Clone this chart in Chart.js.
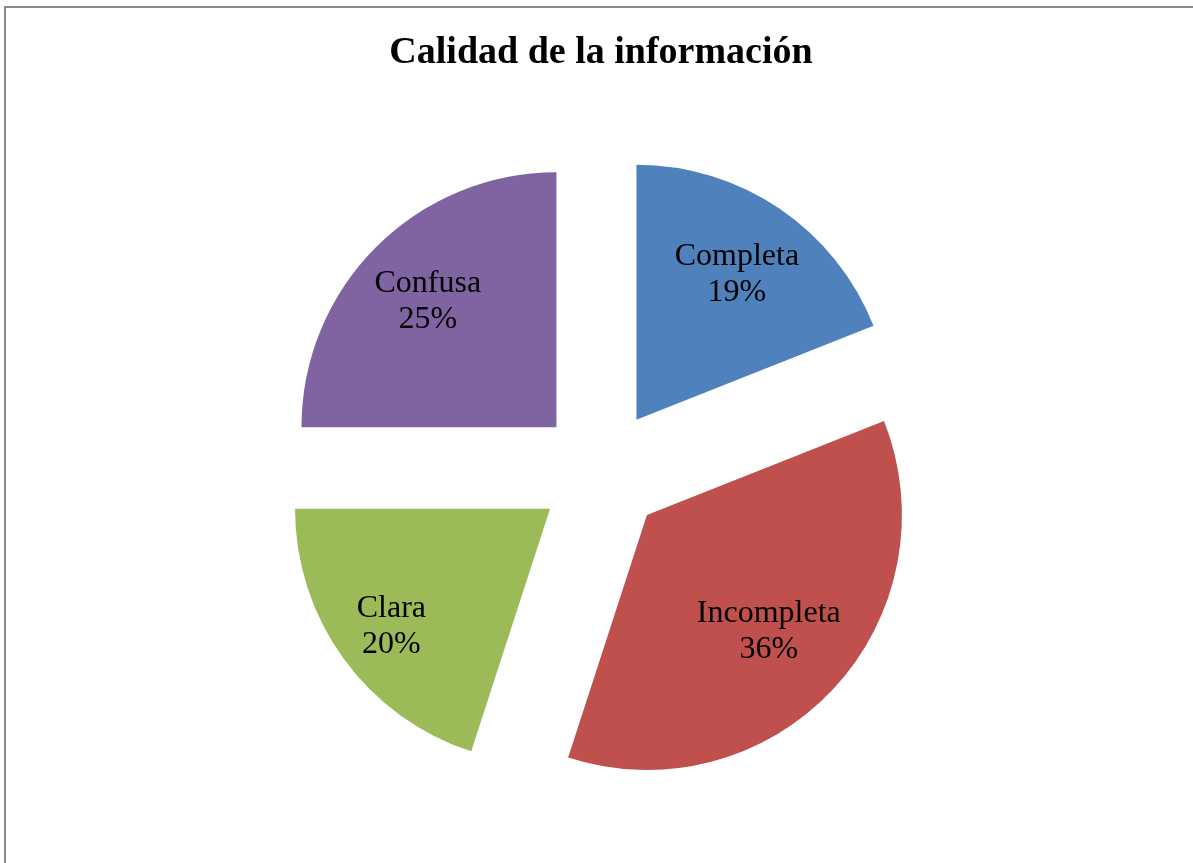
<!DOCTYPE html>
<html lang="es">
<head>
    <meta charset="UTF-8">
    <title>Calidad de la información</title>
    <script src="https://cdn.jsdelivr.net/npm/chart.js"></script>
    <style>
        html, body { margin: 0; padding: 0; background: #fff; overflow: hidden; }
        .frame { position: absolute; left: 4px; top: 6px; width: 1400px; height: 1000px;
                 border-left: 2px solid #8a8a8a; border-top: 2px solid #8a8a8a; }
        .wrap { position: absolute; left: 6px; top: 8px; width: 1190px; height: 855px; }
    </style>
</head>
<body>
    <div class="frame"></div>
    <div class="wrap"><canvas id="chart"></canvas></div>

    <script>
        const categories = ["Completa", "Incompleta", "Clara", "Confusa"];
        const values = [19, 36, 20, 25];
        const colors = ["#4f81bd", "#c0504d", "#9bbb59", "#8064a2"];

        const explode = 63;   // px each slice is pulled out from the centre
        const pieRadius = 255;

        // Chart.js' own offset also grows the radius of wide slices,
        // so shift each arc ourselves and keep the radius equal.
        const explodeSlices = {
            id: "explodeSlices",
            beforeDatasetsDraw(chart) {
                chart.getDatasetMeta(0).data.forEach(arc => {
                    if (arc._exploded) return;
                    const baseDraw = arc.draw;
                    arc.draw = function (ctx) {
                        const mid = (this.startAngle + this.endAngle) / 2;
                        ctx.save();
                        ctx.translate(Math.cos(mid) * explode, Math.sin(mid) * explode);
                        baseDraw.call(this, ctx);
                        ctx.restore();
                    };
                    arc._exploded = true;
                });
            }
        };

        // data labels: name + percent, pushed out along the middle angle
        // until the label box's outer corner nears the rim ("inside end")
        const sliceLabels = {
            id: "sliceLabels",
            afterDatasetsDraw(chart) {
                const ctx = chart.ctx;
                const meta = chart.getDatasetMeta(0);
                const total = values.reduce((a, b) => a + b, 0);
                const halfH = 35;
                ctx.save();
                ctx.fillStyle = "#000";
                ctx.font = "32px 'Liberation Serif'";
                ctx.textAlign = "center";
                ctx.textBaseline = "alphabetic";
                meta.data.forEach((arc, i) => {
                    const p = arc.getProps(["x", "y", "startAngle", "endAngle", "outerRadius"], true);
                    const mid = (p.startAngle + p.endAngle) / 2;
                    const dx = Math.cos(mid), dy = Math.sin(mid);
                    const pct = Math.round(values[i] / total * 100) + "%";
                    const halfW = Math.max(ctx.measureText(categories[i]).width, ctx.measureText(pct).width) / 2;
                    const cx = Math.sign(dx) * halfW, cy = Math.sign(dy) * halfH;
                    const target = p.outerRadius * 0.96;
                    const b = dx * cx + dy * cy;
                    const t = -b + Math.sqrt(b * b - (cx * cx + cy * cy - target * target));
                    const x = p.x + dx * (explode + t);
                    const y = p.y + dy * (explode + t);
                    ctx.fillText(categories[i], x, y - 7);
                    ctx.fillText(pct, x, y + 29);
                });
                ctx.restore();
            }
        };

        new Chart(document.getElementById("chart"), {
            type: "pie",
            data: {
                labels: categories,
                datasets: [{
                    data: values,
                    backgroundColor: colors,
                    borderWidth: 0
                }]
            },
            options: {
                responsive: true,
                maintainAspectRatio: false,
                animation: false,
                radius: pieRadius,
                layout: { padding: 0 },
                plugins: {
                    legend: { display: false },
                    tooltip: { enabled: false },
                    title: {
                        display: true,
                        text: "Calidad de la información",
                        color: "#000",
                        font: { family: "'Liberation Serif'", size: 38, weight: "bold" },
                        padding: { top: 22, bottom: 5 }
                    }
                }
            },
            plugins: [explodeSlices, sliceLabels]
        });
    </script>
</body>
</html>
